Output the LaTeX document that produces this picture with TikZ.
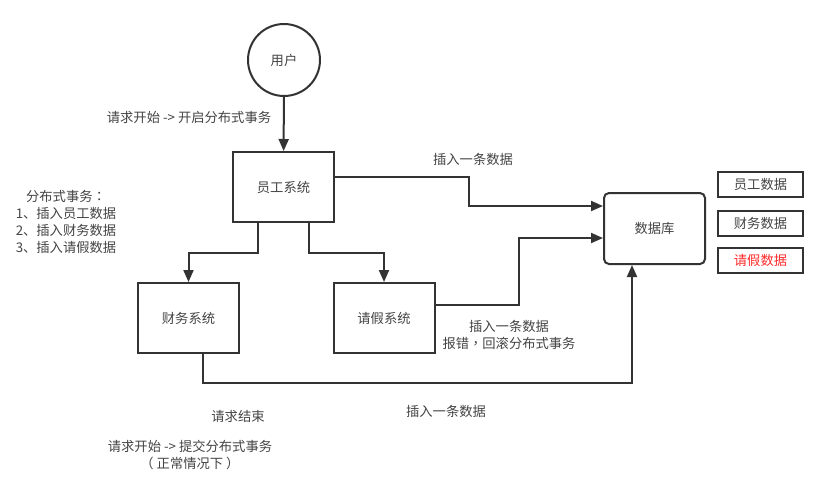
\documentclass[tikz,border=0pt]{standalone}
\usepackage{fontspec}
\setmainfont{Noto Sans CJK SC}
\newfontfamily\tcpunct{Noto Sans CJK TC}
\usetikzlibrary{arrows.meta}
\definecolor{ink}{HTML}{333333}
\definecolor{txt}{HTML}{444444}
\definecolor{redtxt}{HTML}{FF2A2A}
\begin{document}
\begin{tikzpicture}[x=1pt,y=-1pt,
  every node/.style={font=\fontsize{13.3}{16.7}\selectfont, text=txt},
  sysbox/.style={draw=ink, line width=2pt, minimum width=101pt, minimum height=70pt, inner sep=0pt},
  databox/.style={draw=ink, line width=2pt, minimum width=85pt, minimum height=25pt, inner sep=0pt},
  conn/.style={draw=ink, line width=2pt, -{Triangle[length=12pt,width=10pt]}},
  lbl/.style={align=center, inner sep=0pt}]
\useasboundingbox (0,0) rectangle (816,496);
\fill[white] (0,0) rectangle (816,496);

\node[circle, draw=ink, line width=2pt, minimum size=72pt, inner sep=0pt] (user) at (284,60) {用户};
\node[sysbox] (emp) at (283.5,187) {员工系统};
\node[sysbox] (fin) at (188.5,318) {财务系统};
\node[sysbox] (leave) at (384,318) {请假系统};
\node[draw=ink, line width=2pt, rounded corners=5pt, minimum width=101pt, minimum height=71pt, inner sep=0pt] (db) at (654.5,228.5) {数据库};

\node[databox] (d1) at (760.5,184.5) {员工数据};
\node[databox] (d2) at (760.5,223) {财务数据};
\node[databox, text=redtxt] (d3) at (760.5,260) {请假数据};

\coordinate (e1) at (258,222);
\coordinate (e2) at (309,222);
\coordinate (f1) at (203,353);

\draw[conn] (user) -- (emp);
\draw[conn] (e1) -- (258,253) -- (188.5,253) -- (fin.north);
\draw[conn] (e2) -- (309,253) -- (384,253) -- (leave.north);
\draw[conn] (emp.east |- 0,177) -- (469,177) -- (469,206) -- (db.west |- 0,206);
\draw[conn] (leave.east |- 0,305) -- (519,305) -- (519,238) -- (db.west |- 0,238);
\draw[conn] (f1) -- (203,383) -- (632,383) -- (db.south -| 632,0);

\node[lbl] (t1) at (189,117) {请求开始 -> 开启分布式事务};
\node[lbl] (t2) at (66,222) {分布式事务{\tcpunct ：}\\1、插入员工数据\\2、插入财务数据\\3、插入请假数据};
\node[lbl] (t3) at (473,159) {插入一条数据};
\node[lbl] (t4) at (509,335) {插入一条数据\\报错{\tcpunct ，}回滚分布式事务};
\node[lbl] (t5) at (446,411) {插入一条数据};
\node[lbl] (t6) at (238,416) {请求结束};
\node[lbl] (t7) at (190,455) {请求开始 -> 提交分布式事务\\（ 正常情况下 ）};
\end{tikzpicture}
\end{document}
